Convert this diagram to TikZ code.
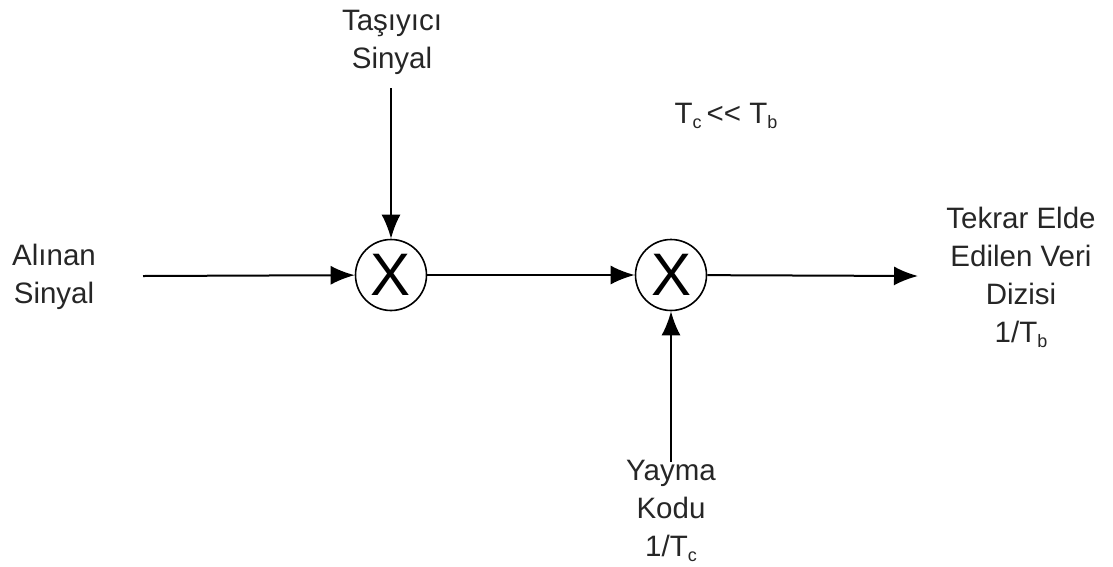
\documentclass[tikz,border=0pt]{standalone}
\usepackage{fontspec}
\setmainfont{Liberation Sans}
\usetikzlibrary{arrows.meta}
\newcommand{\subsc}[1]{\raisebox{-0.18em}{\fontsize{18}{18}\selectfont #1}}
\begin{document}
\begin{tikzpicture}[x=1pt,y=-1pt,
  lbl/.style={align=center,inner sep=0pt,font=\fontsize{29.5}{38}\selectfont,text=black!85},
  mult/.style={circle,draw,line width=1.6pt,minimum size=71pt,inner sep=0pt,font=\fontsize{60}{60}\selectfont},
  conn/.style={line width=2pt,-{Latex[length=24pt,width=19pt]}}]
\useasboundingbox (0,0) rectangle (1113,566);
\node[mult] (m1) at (391,275) {X};
\node[mult] (m2) at (671,275) {X};
\node[lbl,anchor=base] (tas) at (392,68) {Taşıyıcı\\Sinyal};
\coordinate (tasend) at (391,88);
\node[lbl,anchor=base] (aln) at (54,303) {Alınan\\Sinyal};
\coordinate (alnend) at (143,276);
\node[lbl,anchor=base] (tctb) at (726,123) {T\subsc{c}\,<{}< T\subsc{b}};
\node[lbl,anchor=base] (out) at (1021,342) {Tekrar Elde\\Edilen Veri\\Dizisi\\1/T\subsc{b}};
\coordinate (outend) at (918,276);
\node[lbl,anchor=base] (yay) at (671,556) {Yayma\\Kodu\\1/T\subsc{c}};
\coordinate (yayend) at (671,462);
\draw[conn] (tasend) -- (m1);
\draw[conn] (alnend) -- (m1);
\draw[conn] (m1) -- (m2);
\draw[conn] (m2) -- (outend);
\draw[conn] (yayend) -- (m2);
\end{tikzpicture}
\end{document}
